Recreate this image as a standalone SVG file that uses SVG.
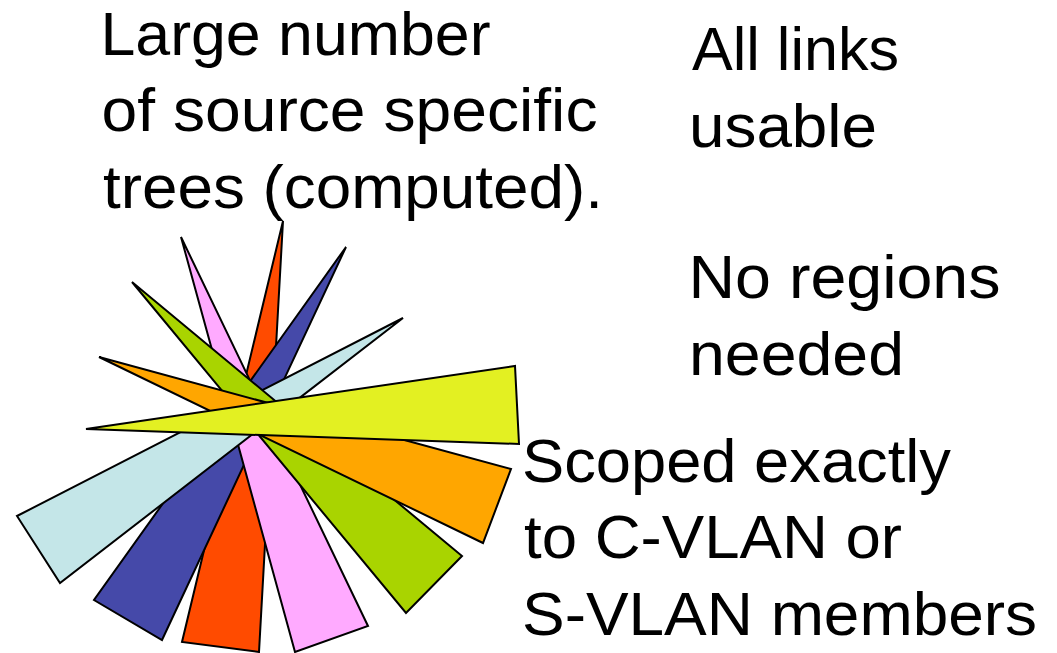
<svg xmlns="http://www.w3.org/2000/svg" width="1057" height="653" viewBox="0 0 1057 653">
<style>
.w{stroke:#000;stroke-width:2;stroke-linejoin:miter}
.t{font-family:"Liberation Sans",Arial,sans-serif;font-size:62px;fill:#000}
</style>
<rect width="1057" height="653" fill="#fff"/>
<g id="trees">
<polygon id="red" class="w" fill="#FF4B00" points="283,221 182,642 259,652"/>
<polygon id="blue" class="w" fill="#4549A9" points="346,247 94,600 162,640"/>
<polygon id="pink" class="w" fill="#FFAAFF" points="181,237 295,652 368,626"/>
<polygon id="lightblue" class="w" fill="#C4E6E8" points="403,318 17,516 60,583"/>
<polygon id="green" class="w" fill="#A9D400" points="132,282 406,613 462,556"/>
<polygon id="orange" class="w" fill="#FFA600" points="99,357 483,543 511,469"/>
<polygon id="yellow" class="w" fill="#E3F022" points="86,429 515,366 519,444"/>
</g>
<g id="label-left" class="t">
<text x="100.5" y="55" textLength="390" lengthAdjust="spacingAndGlyphs">Large number</text>
<text x="101.5" y="131" textLength="496" lengthAdjust="spacingAndGlyphs">of source specific</text>
<text x="103" y="208" textLength="500" lengthAdjust="spacingAndGlyphs">trees (computed).</text>
</g>
<g id="label-right" class="t">
<text x="692" y="70" textLength="207" lengthAdjust="spacingAndGlyphs">All links</text>
<text x="689" y="147" textLength="188" lengthAdjust="spacingAndGlyphs">usable</text>
<text x="688.5" y="298" textLength="312" lengthAdjust="spacingAndGlyphs">No regions</text>
<text x="689" y="375" textLength="215" lengthAdjust="spacingAndGlyphs">needed</text>
</g>
<g id="label-bottom" class="t">
<text x="522" y="482" textLength="429" lengthAdjust="spacingAndGlyphs">Scoped exactly</text>
<text x="524" y="558" textLength="378" lengthAdjust="spacingAndGlyphs">to C-VLAN or</text>
<text x="522" y="635" textLength="515" lengthAdjust="spacingAndGlyphs">S-VLAN members</text>
</g>
</svg>
